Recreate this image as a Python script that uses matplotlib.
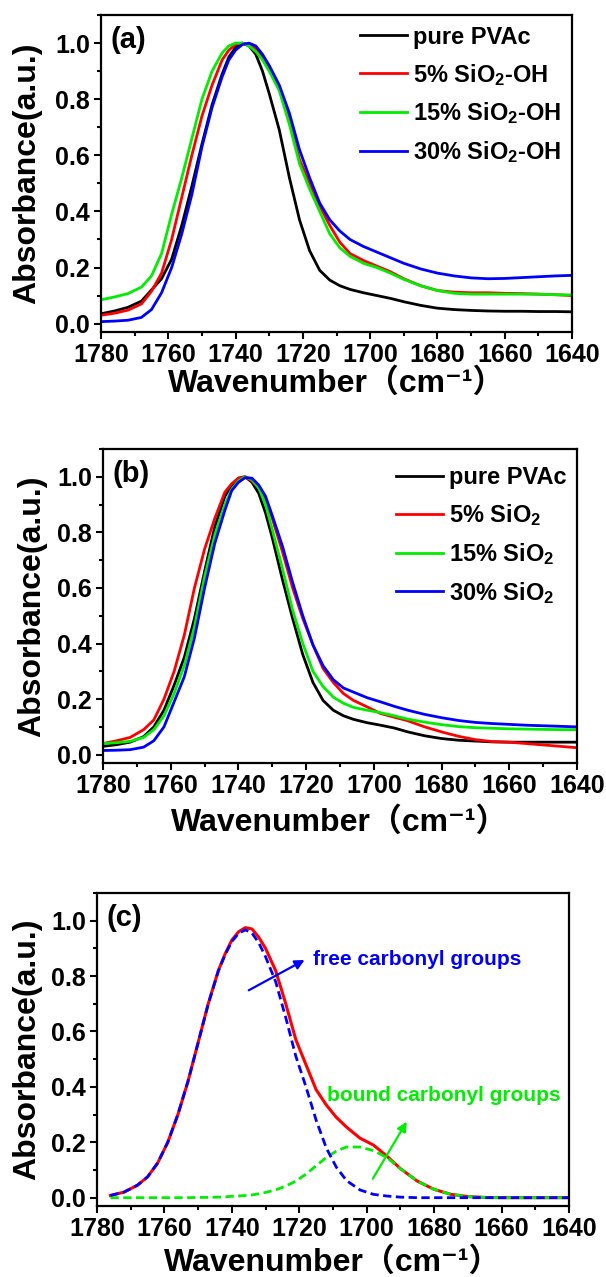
import matplotlib
matplotlib.use('Agg')
import matplotlib.pyplot as plt
from matplotlib.ticker import MultipleLocator

plt.rcParams['font.family'] = ['Liberation Sans', 'Noto Sans CJK SC', 'DejaVu Sans']
plt.rcParams['font.weight'] = 'bold'
plt.rcParams['mathtext.fontset'] = 'custom'
plt.rcParams['mathtext.rm'] = 'Liberation Sans:bold'
plt.rcParams['mathtext.bf'] = 'Liberation Sans:bold'
plt.rcParams['mathtext.default'] = 'bf'
plt.rcParams['axes.linewidth'] = 1.6

# wavenumber grid (cm-1) for panels a and b
wn_ab = [1780, 1776, 1772, 1768, 1765, 1762, 1759, 1756, 1753, 1750, 1747, 1744, 1742, 1740,
         1738, 1736, 1734, 1732, 1730, 1727, 1724, 1721, 1718, 1715, 1712, 1709, 1706, 1702,
         1698, 1694, 1690, 1685, 1680, 1675, 1670, 1665, 1660, 1655, 1650, 1645, 1640]

# (a) SiO2-OH series
a_pure = [0.035, 0.045, 0.058, 0.08, 0.12, 0.16, 0.23, 0.35, 0.49, 0.64, 0.78, 0.89, 0.95, 0.985,
          1.0, 0.99, 0.96, 0.9, 0.82, 0.69, 0.52, 0.37, 0.26, 0.19, 0.155, 0.135, 0.122, 0.11,
          0.1, 0.09, 0.078, 0.065, 0.055, 0.05, 0.047, 0.045, 0.044, 0.044, 0.043, 0.043, 0.042]
a_5 = [0.03, 0.037, 0.048, 0.07, 0.115, 0.18, 0.3, 0.45, 0.6, 0.74, 0.85, 0.94, 0.975, 0.995,
       1.0, 0.995, 0.98, 0.95, 0.91, 0.84, 0.72, 0.585, 0.5, 0.42, 0.35, 0.29, 0.25, 0.225,
       0.205, 0.185, 0.16, 0.135, 0.118, 0.112, 0.11, 0.11, 0.108, 0.107, 0.105, 0.103, 0.1]
a_15 = [0.085, 0.095, 0.107, 0.13, 0.17, 0.25, 0.39, 0.52, 0.66, 0.8, 0.9, 0.965, 0.99, 1.0,
        1.0, 0.99, 0.97, 0.94, 0.9, 0.83, 0.71, 0.57, 0.48, 0.4, 0.32, 0.27, 0.24, 0.215,
        0.2, 0.18, 0.158, 0.135, 0.118, 0.108, 0.105, 0.105, 0.105, 0.105, 0.105, 0.103, 0.102]
a_30 = [0.007, 0.009, 0.012, 0.022, 0.05, 0.11, 0.2, 0.32, 0.46, 0.63, 0.77, 0.88, 0.94, 0.975,
        0.995, 1.0, 0.99, 0.96, 0.92, 0.85, 0.75, 0.62, 0.52, 0.43, 0.37, 0.33, 0.3, 0.275,
        0.255, 0.235, 0.215, 0.195, 0.18, 0.17, 0.163, 0.16, 0.161, 0.164, 0.167, 0.17, 0.172]

# (b) SiO2 series
b_pure = [0.03, 0.036, 0.045, 0.065, 0.1, 0.16, 0.25, 0.35, 0.49, 0.66, 0.82, 0.93, 0.97, 0.995,
          1.0, 0.98, 0.94, 0.87, 0.78, 0.63, 0.49, 0.36, 0.26, 0.195, 0.16, 0.14, 0.127, 0.115,
          0.106, 0.096, 0.082, 0.068, 0.058, 0.052, 0.049, 0.046, 0.045, 0.045, 0.045, 0.045, 0.045]
b_5 = [0.04, 0.05, 0.062, 0.09, 0.125, 0.2, 0.3, 0.43, 0.6, 0.74, 0.85, 0.945, 0.975, 0.995,
       1.0, 0.985, 0.96, 0.92, 0.85, 0.73, 0.6, 0.49, 0.395, 0.31, 0.26, 0.22, 0.195, 0.172,
       0.148, 0.135, 0.122, 0.1, 0.082, 0.066, 0.054, 0.047, 0.045, 0.04, 0.035, 0.03, 0.025]
b_15 = [0.04, 0.043, 0.048, 0.062, 0.09, 0.14, 0.22, 0.32, 0.46, 0.64, 0.79, 0.9, 0.955, 0.985,
        1.0, 0.99, 0.96, 0.9, 0.81, 0.67, 0.52, 0.4, 0.3, 0.245, 0.207, 0.185, 0.17, 0.16,
        0.151, 0.14, 0.128, 0.117, 0.108, 0.101, 0.097, 0.095, 0.093, 0.092, 0.091, 0.09, 0.09]
b_30 = [0.015, 0.016, 0.018, 0.027, 0.05, 0.1, 0.19, 0.28, 0.42, 0.6, 0.76, 0.88, 0.95, 0.98,
        0.997, 0.995, 0.97, 0.93, 0.86, 0.75, 0.62, 0.5, 0.395, 0.32, 0.27, 0.24, 0.225, 0.205,
        0.19, 0.174, 0.16, 0.145, 0.133, 0.123, 0.116, 0.112, 0.109, 0.106, 0.104, 0.102, 0.1]

labels_a = ['pure PVAc', '5% SiO$_2$-OH', '15% SiO$_2$-OH', '30% SiO$_2$-OH']
labels_b = ['pure PVAc', '5% SiO$_2$', '15% SiO$_2$', '30% SiO$_2$']
colors = ['black', '#ff0000', '#00ee00', '#0000ff']

# (c) curve fitting
wn_c = [1776, 1772, 1768, 1765, 1762, 1759, 1756, 1753, 1750, 1747, 1744, 1742, 1740, 1738,
        1736, 1734, 1732, 1730, 1727, 1724, 1721, 1718, 1715, 1712, 1709, 1706, 1702, 1698,
        1694, 1690, 1685, 1680, 1675, 1670, 1665, 1660, 1655, 1650, 1645, 1640]
c_total = [0.008, 0.02, 0.045, 0.075, 0.125, 0.2, 0.3, 0.42, 0.56, 0.7, 0.82, 0.88, 0.93, 0.96,
           0.975, 0.97, 0.94, 0.9, 0.82, 0.7, 0.57, 0.48, 0.39, 0.335, 0.29, 0.255, 0.215, 0.19,
           0.15, 0.105, 0.06, 0.03, 0.012, 0.004, 0.001, 0, 0, 0, 0, 0]
c_free = [0.008, 0.02, 0.045, 0.075, 0.125, 0.2, 0.3, 0.42, 0.559, 0.699, 0.818, 0.877, 0.925, 0.954,
          0.967, 0.955, 0.92, 0.87, 0.78, 0.65, 0.51, 0.4, 0.28, 0.18, 0.11, 0.062, 0.028, 0.012,
          0.006, 0.002, 0, 0, 0, 0, 0, 0, 0, 0, 0, 0]
c_bound = [0, 0, 0, 0, 0, 0, 0, 0, 0.001, 0.001, 0.002, 0.003, 0.005, 0.006,
           0.008, 0.01, 0.014, 0.019, 0.028, 0.042, 0.06, 0.085, 0.115, 0.145, 0.168, 0.183, 0.183, 0.17,
           0.145, 0.105, 0.06, 0.03, 0.012, 0.004, 0.001, 0, 0, 0, 0, 0]

fig = plt.figure(figsize=(6.06, 12.77), dpi=100)
ax_a = fig.add_axes([0.1667, 0.7400, 0.7772, 0.2482])
ax_b = fig.add_axes([0.1700, 0.4025, 0.7822, 0.2459])
ax_c = fig.add_axes([0.1600, 0.0556, 0.7789, 0.2451])


def style_axes(ax, tag, ylab_x, xlab_y):
    ax.set_xlim(1780, 1640)
    ax.set_ylim(-0.03, 1.1)
    ax.xaxis.set_major_locator(MultipleLocator(20))
    ax.xaxis.set_minor_locator(MultipleLocator(10))
    ax.yaxis.set_major_locator(MultipleLocator(0.2))
    ax.yaxis.set_minor_locator(MultipleLocator(0.1))
    ax.tick_params(which='both', direction='out', top=False, right=False, width=1.5,
                   labelsize=18, pad=3)
    ax.tick_params(which='major', length=5)
    ax.tick_params(which='minor', length=2.8)
    ax.text(0.02, 0.965, tag, transform=ax.transAxes, fontsize=21, fontweight='bold',
            va='top', ha='left')
    ax.set_xlabel('Wavenumber（cm⁻¹）', fontsize=23, fontweight='bold')
    ax.set_ylabel('Absorbance(a.u.)', fontsize=23, fontweight='bold')
    ax.yaxis.set_label_coords(ylab_x, 0.5)
    ax.xaxis.set_label_coords(0.5, xlab_y)


for ax, ys, labs, top in [(ax_a, [a_pure, a_5, a_15, a_30], labels_a, 1.0),
                          (ax_b, [b_pure, b_5, b_15, b_30], labels_b, 0.98)]:
    for y, c, lab in zip(ys, colors, labs):
        ax.plot(wn_ab, y, color=c, lw=2, label=lab)
    ax.legend(loc='upper right', bbox_to_anchor=(1.0, top), frameon=False, fontsize=17,
              handlelength=2.0, handletextpad=0.25, labelspacing=0.55, borderaxespad=0.25,
              borderpad=0.2)

style_axes(ax_a, '(a)', -0.125, -0.115)
style_axes(ax_b, '(b)', -0.118, -0.14)

ax_c.plot(wn_c, c_total, color='#ff0000', lw=2.2)
ax_c.plot(wn_c, c_bound, color='#00ee00', lw=2, ls=(0, (3, 1.6)))
ax_c.plot(wn_c, c_free, color='#0000ff', lw=2, ls=(0, (3, 1.6)))
ax_c.annotate('', xy=(1717.7, 0.863), xytext=(1735.7, 0.744),
              arrowprops=dict(arrowstyle='-|>', color='#0000ff', lw=1.6, mutation_scale=14))
ax_c.text(1716, 0.86, 'free carbonyl groups', color='#0000ff', fontsize=15,
          fontweight='bold', ha='left', va='center')
ax_c.annotate('', xy=(1687.7, 0.283), xytext=(1698.6, 0.06),
              arrowprops=dict(arrowstyle='-|>', color='#00ee00', lw=1.6, mutation_scale=14))
ax_c.text(1711.7, 0.368, 'bound carbonyl groups', color='#00ee00', fontsize=15,
          fontweight='bold', ha='left', va='center')
style_axes(ax_c, '(c)', -0.117, -0.13)

fig.savefig('out.png', dpi=100)
